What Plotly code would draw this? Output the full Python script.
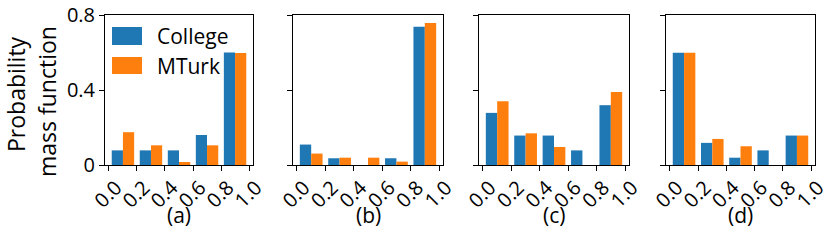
import plotly.graph_objects as go

# ---- data ----
bin_edges = [0.0, 0.2, 0.4, 0.6, 0.8, 1.0]
x_tick_labels = ["0.0", "0.2", "0.4", "0.6", "0.8", "1.0"]
y_tick_vals = [0, 0.4, 0.8]
y_tick_labels = ["0", "0.4", "0.8"]
panel_labels = ["(a)", "(b)", "(c)", "(d)"]
series_names = ["College", "MTurk"]

college_a = [0.078, 0.078, 0.078, 0.160, 0.600]
mturk_a = [0.175, 0.105, 0.016, 0.105, 0.597]
college_b = [0.109, 0.036, 0.0, 0.036, 0.738]
mturk_b = [0.061, 0.039, 0.039, 0.018, 0.758]
college_c = [0.278, 0.157, 0.157, 0.078, 0.319]
mturk_c = [0.340, 0.169, 0.096, 0.0, 0.389]
college_d = [0.599, 0.118, 0.039, 0.078, 0.157]
mturk_d = [0.599, 0.139, 0.100, 0.0, 0.157]

colors = ["#1f77b4", "#ff7f0e"]
W, H = 830, 244
FONT = "Open Sans"

def px(xp):
    return xp / W

def py(yp):
    return 1 - yp / H

panels = [(college_a, mturk_a), (college_b, mturk_b), (college_c, mturk_c), (college_d, mturk_d)]
x_domains = [(105, 253), (293, 443), (479, 629), (666, 815)]
y_dom = [py(165), py(15)]

binw = bin_edges[1] - bin_edges[0]
barw = 0.4 * binw
lefts = bin_edges[:-1]

fig = go.Figure()
for i, (col, mt) in enumerate(panels):
    xa = "x" if i == 0 else f"x{i+1}"
    ya = "y" if i == 0 else f"y{i+1}"
    for j, vals in enumerate((col, mt)):
        centers = [l + 0.1 * binw + barw * (j + 0.5) for l in lefts]
        fig.add_trace(go.Bar(
            x=centers, y=[v if v > 0 else None for v in vals], width=barw,
            marker=dict(color=colors[j], line=dict(width=0)),
            name=series_names[j], showlegend=False, xaxis=xa, yaxis=ya))

axis_common = dict(showline=True, mirror=True, linecolor="black", linewidth=1,
                   ticks="outside", ticklen=5, tickcolor="black", showgrid=False,
                   zeroline=False, automargin=False,
                   tickfont=dict(family=FONT, size=20, color="black"))

layout = dict(width=W, height=H, autosize=False, margin=dict(l=0, r=0, t=0, b=0, pad=0),
              plot_bgcolor="white", paper_bgcolor="white", barmode="overlay",
              showlegend=False)
for i in range(4):
    sx = "" if i == 0 else str(i + 1)
    layout[f"xaxis{sx}"] = dict(axis_common, domain=[px(x_domains[i][0]), px(x_domains[i][1])],
                                range=[-0.028, 1.028], tickvals=bin_edges, ticktext=x_tick_labels,
                                tickangle=-45, ticklabelshift=7, ticklabelstandoff=-3,
                                anchor=f"y{sx}")
    layout[f"yaxis{sx}"] = dict(axis_common, domain=y_dom, range=[0, 0.8],
                                tickvals=y_tick_vals, ticktext=y_tick_labels,
                                showticklabels=(i == 0), anchor=f"x{sx}")
fig.update_layout(**layout)

annotations = []
# subplot labels
for i, lab in enumerate(panel_labels):
    cx = (x_domains[i][0] + x_domains[i][1]) / 2
    annotations.append(dict(x=px(cx), y=py(215), xref="paper", yref="paper", text=lab,
                            showarrow=False, xanchor="center", yanchor="middle",
                            font=dict(family=FONT, size=21, color="black")))
# y axis title (two lines)
annotations.append(dict(x=px(16), y=py(94), xref="paper", yref="paper", text="Probability",
                        showarrow=False, textangle=-90, xanchor="center", yanchor="middle",
                        font=dict(family=FONT, size=23, color="black")))
annotations.append(dict(x=px(47), y=py(102), xref="paper", yref="paper", text="mass function",
                        showarrow=False, textangle=-90, xanchor="center", yanchor="middle",
                        font=dict(family=FONT, size=23, color="black")))
# legend
shapes = []
leg_rows = [(27, 45, 36), (57, 74, 65.5)]
for j, (y0, y1, yc) in enumerate(leg_rows):
    shapes.append(dict(type="rect", xref="paper", yref="paper", x0=px(112), x1=px(142),
                       y0=py(y1), y1=py(y0), fillcolor=colors[j], line=dict(width=0)))
    annotations.append(dict(x=px(155), y=py(yc), xref="paper", yref="paper", text=series_names[j],
                            showarrow=False, xanchor="left", yanchor="middle",
                            font=dict(family=FONT, size=21, color="black")))
fig.update_layout(annotations=annotations, shapes=shapes)

# remove the browser's default 8px body margin so the figure sits at the page origin
fig.write_html("out.html", config={"displayModeBar": False},
               post_script="document.body.style.margin='0';")
